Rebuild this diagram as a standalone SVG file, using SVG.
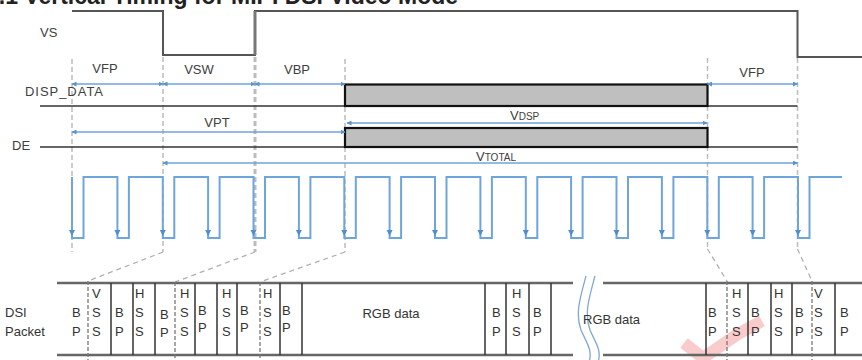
<svg xmlns="http://www.w3.org/2000/svg" width="862" height="360" viewBox="0 0 862 360">
<defs>
<style>
text{font-family:"Liberation Sans",Arial,sans-serif;fill:#404040}
.lbl{font-size:13px}
.cell{font-size:13px;fill:#333}
.mid{text-anchor:middle}
.sig{fill:none;stroke:#555;stroke-width:2}
.base{fill:none;stroke:#333;stroke-width:1.5}
.box{fill:#bfbfbf;stroke:#111;stroke-width:2.2}
.guide{fill:none;stroke:#bcbcbc;stroke-width:1.5;stroke-dasharray:5 3}
.slant{fill:none;stroke:#b0b0b0;stroke-width:1.3;stroke-dasharray:5 4}
.celldash{fill:none;stroke:#777;stroke-width:1.3;stroke-dasharray:4 2}
.arr{fill:none;stroke:#6fa3d8;stroke-width:1.5;marker-start:url(#ah);marker-end:url(#ah)}
.pulse{fill:none;stroke:#6ea6dc;stroke-width:2}
.rail{fill:none;stroke:#666;stroke-width:2.5}
.div{fill:none;stroke:#333;stroke-width:1.5}
</style>
<marker id="ah" viewBox="0 0 10 10" refX="9" refY="5" markerWidth="5" markerHeight="5" orient="auto-start-reverse" markerUnits="userSpaceOnUse">
<path d="M0,0 L10,5 L0,10 z" fill="#5b93cf"/>
</marker>
<path id="tri" d="M-3,-3 L3,-3 L0,3 z" fill="#4f8fd0"/>
</defs>

<text x="-14" y="4" style="font-size:23px;font-weight:bold;fill:#222">2.1 Vertical Timing for MIPI DSI Video Mode</text>

<g id="guides">
<line class="guide" x1="72" y1="59" x2="72" y2="252"/>
<line class="guide" x1="163" y1="57" x2="163" y2="252"/>
<line class="guide" x1="255" y1="57" x2="255" y2="252" style="stroke-width:3"/>
<line class="guide" x1="345" y1="59" x2="345" y2="252"/>
<line class="guide" x1="707.5" y1="58" x2="707.5" y2="249"/>
<line class="guide" x1="797.5" y1="58" x2="797.5" y2="249"/>
</g>

<g id="vs">
<path class="sig" d="M72,11 H163 V55 H255 V11 H797.5 V57 H862"/>
<line x1="255" y1="11" x2="255" y2="55" stroke="#777" stroke-width="3"/>
<text class="lbl" x="40" y="37">VS</text>
</g>

<g id="disp_data">
<text class="lbl" x="25" y="96" textLength="78">DISP_DATA</text>
<line class="base" x1="40" y1="106" x2="797.5" y2="106"/>
<rect class="box" x="345" y="84.5" width="362.5" height="21.5"/>
</g>

<g id="de">
<text class="lbl" x="12" y="150">DE</text>
<line class="base" x1="40" y1="147" x2="797.5" y2="147"/>
<rect class="box" x="345" y="128" width="362.5" height="19"/>
</g>

<g id="intervals">
<line class="arr" x1="72" y1="84" x2="163" y2="84"/>
<line class="arr" x1="163" y1="84" x2="255" y2="84"/>
<line class="arr" x1="255" y1="84" x2="345" y2="84"/>
<line class="arr" x1="707.5" y1="84" x2="797.5" y2="84"/>
<line class="arr" x1="72" y1="132" x2="345" y2="132"/>
<line class="arr" x1="347" y1="123" x2="707" y2="123"/>
<line class="arr" x1="163" y1="163" x2="797.5" y2="163"/>
<text class="lbl mid" x="105" y="73">VFP</text>
<text class="lbl mid" x="199" y="74">VSW</text>
<text class="lbl mid" x="297" y="74">VBP</text>
<text class="lbl mid" x="752" y="77">VFP</text>
<text class="lbl mid" x="217" y="127">VPT</text>
<text class="lbl" x="510" y="120">V<tspan style="font-size:10px">DSP</tspan></text>
<text class="lbl" x="476" y="161">V<tspan style="font-size:10px">TOTAL</tspan></text>
</g>

<g id="hsync">
<path class="pulse" d="M72,177 V238 H83.5 V177 H117.4 V238 H128.9 V177 H162.8 V238 H174.3 V177 H208.1 V238 H219.6 V177 H253.5 V238 H265 V177 H298.9 V238 H310.4 V177 H344.3 V238 H355.8 V177 H389.6 V238 H401.1 V177 H435 V238 H446.5 V177 H480.4 V238 H491.9 V177 H525.8 V238 H537.3 V177 H571.1 V238 H582.6 V177 H616.5 V238 H628 V177 H661.9 V238 H673.4 V177 H707.3 V238 H718.8 V177 H752.6 V238 H764.1 V177 H798 V238 H809.5 V177 H842"/>
<use href="#tri" x="72" y="233"/>
<use href="#tri" x="117.4" y="233"/>
<use href="#tri" x="162.8" y="233"/>
<use href="#tri" x="208.1" y="233"/>
<use href="#tri" x="253.5" y="233"/>
<use href="#tri" x="298.9" y="233"/>
<use href="#tri" x="344.3" y="233"/>
<use href="#tri" x="389.6" y="233"/>
<use href="#tri" x="435" y="233"/>
<use href="#tri" x="480.4" y="233"/>
<use href="#tri" x="525.8" y="233"/>
<use href="#tri" x="571.1" y="233"/>
<use href="#tri" x="616.5" y="233"/>
<use href="#tri" x="661.9" y="233"/>
<use href="#tri" x="707.3" y="233"/>
<use href="#tri" x="752.6" y="233"/>
<use href="#tri" x="798" y="233"/>
</g>

<g id="connectors">
<line class="slant" x1="163" y1="252" x2="88" y2="281"/>
<line class="slant" x1="255" y1="252" x2="175" y2="282"/>
<line class="slant" x1="345" y1="252" x2="260" y2="282"/>
<line class="slant" x1="707.5" y1="249" x2="727" y2="281"/>
<line class="slant" x1="797.5" y1="249" x2="812" y2="281"/>
</g>

<path d="M684,343 L703,358 L738,334 L762,321" fill="none" stroke="#f26b6b" stroke-opacity="0.35" stroke-width="12"/>

<g id="packet">
<path class="rail" d="M57,283 H573 M603,283 H862 M57,355 H573 M603,355 H862"/>
<path class="div" d="M111,283 V355 M133,283 V355 M155,283 V355 M195,283 V355 M217,283 V355 M237,283 V355 M280,283 V355 M302,283 V355 M485,283 V355 M506,283 V355 M529,283 V355 M551,283 V355 M706,283 V355 M748,283 V355 M771,283 V355 M792,283 V355 M835,283 V355"/>
<path class="celldash" d="M88,281 V360 M175,282 V360 M260,282 V360 M727,281 V360 M812,281 V360"/>
<path d="M586,276 C580,298 575,314 581,330 C586,342 593,350 589,362 M595,276 C589,298 584,314 590,330 C595,342 602,350 598,362" fill="none" stroke="#7fa8d2" stroke-width="1.3"/>
<text class="cell" x="5" y="317">DSI</text>
<text class="cell" x="5" y="336">Packet</text>
<text class="cell" x="72" y="317">B</text><text class="cell" x="72" y="336">P</text>
<text class="cell" x="92" y="298">V</text><text class="cell" x="92" y="317">S</text><text class="cell" x="92" y="336">S</text>
<text class="cell" x="115" y="317">B</text><text class="cell" x="115" y="336">P</text>
<text class="cell" x="135" y="298">H</text><text class="cell" x="135" y="317">S</text><text class="cell" x="135" y="336">S</text>
<text class="cell" x="160" y="319">B</text><text class="cell" x="160" y="337">P</text>
<text class="cell" x="180" y="298">H</text><text class="cell" x="180" y="317">S</text><text class="cell" x="180" y="336">S</text>
<text class="cell" x="198" y="315">B</text><text class="cell" x="198" y="332">P</text>
<text class="cell" x="222" y="298">H</text><text class="cell" x="222" y="317">S</text><text class="cell" x="222" y="336">S</text>
<text class="cell" x="240" y="315">B</text><text class="cell" x="240" y="332">P</text>
<text class="cell" x="263" y="298">H</text><text class="cell" x="263" y="317">S</text><text class="cell" x="263" y="336">S</text>
<text class="cell" x="282" y="315">B</text><text class="cell" x="282" y="332">P</text>
<text class="cell mid" x="391" y="318">RGB data</text>
<text class="cell" x="492" y="317">B</text><text class="cell" x="492" y="336">P</text>
<text class="cell" x="512" y="298">H</text><text class="cell" x="512" y="317">S</text><text class="cell" x="512" y="336">S</text>
<text class="cell" x="533" y="317">B</text><text class="cell" x="533" y="336">P</text>
<text class="cell" x="583" y="324">RGB data</text>
<text class="cell" x="708" y="317">B</text><text class="cell" x="708" y="336">P</text>
<text class="cell" x="732" y="298">H</text><text class="cell" x="732" y="317">S</text><text class="cell" x="732" y="336">S</text>
<text class="cell" x="751" y="317">B</text><text class="cell" x="751" y="336">P</text>
<text class="cell" x="774" y="298">H</text><text class="cell" x="774" y="317">S</text><text class="cell" x="774" y="336">S</text>
<text class="cell" x="795" y="317">B</text><text class="cell" x="795" y="336">P</text>
<text class="cell" x="814" y="298">V</text><text class="cell" x="814" y="317">S</text><text class="cell" x="814" y="336">S</text>
<text class="cell" x="840" y="317">B</text><text class="cell" x="840" y="336">P</text>
</g>
</svg>
